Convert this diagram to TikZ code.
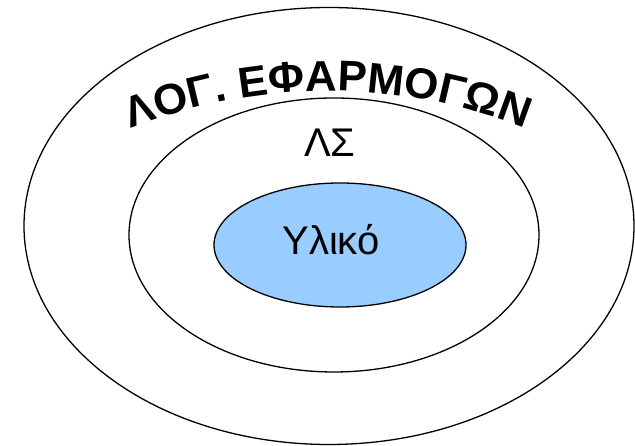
\documentclass[tikz,border=0pt]{standalone}
\usepackage{fontspec}
\setmainfont{Liberation Sans}
\newfontfamily\arcfamily[FakeStretch=1.02]{Liberation Sans}
\usetikzlibrary{decorations.text}
\newcommand\arctextfont{\arcfamily\bfseries\fontsize{43}{48}\selectfont}
\tikzset{
  ring/.style={draw=black, line width=1.3pt},
  label40/.style={font=\fontsize{40}{48}\selectfont, inner sep=0pt, anchor=base}
}
\begin{document}
\begin{tikzpicture}[x=1pt,y=1pt]
\useasboundingbox[fill=white] (0,0) rectangle (635,446);
\draw[ring] (329,220) ellipse [x radius=305, y radius=218.5];
\draw[ring] (334,211) ellipse [x radius=205, y radius=137];
\draw[ring, fill={rgb,255:red,153;green,204;blue,255}] (340,201) ellipse [x radius=126, y radius=62];
\coordinate (arcc) at (328,-180);
\path[decorate, decoration={text along path, text align=center,
   text format delimiters={|}{|},
   text={|\arctextfont|ΛΟΓ. ΕΦΑΡΜΟΓΩΝ}}]
  (arcc) ++(116:535) arc[start angle=116, end angle=64, radius=535];
\node[label40] (os) at (330,289) {ΛΣ};
\node[label40] (hw) at (331,191) {Υλικό};
\end{tikzpicture}
\end{document}
